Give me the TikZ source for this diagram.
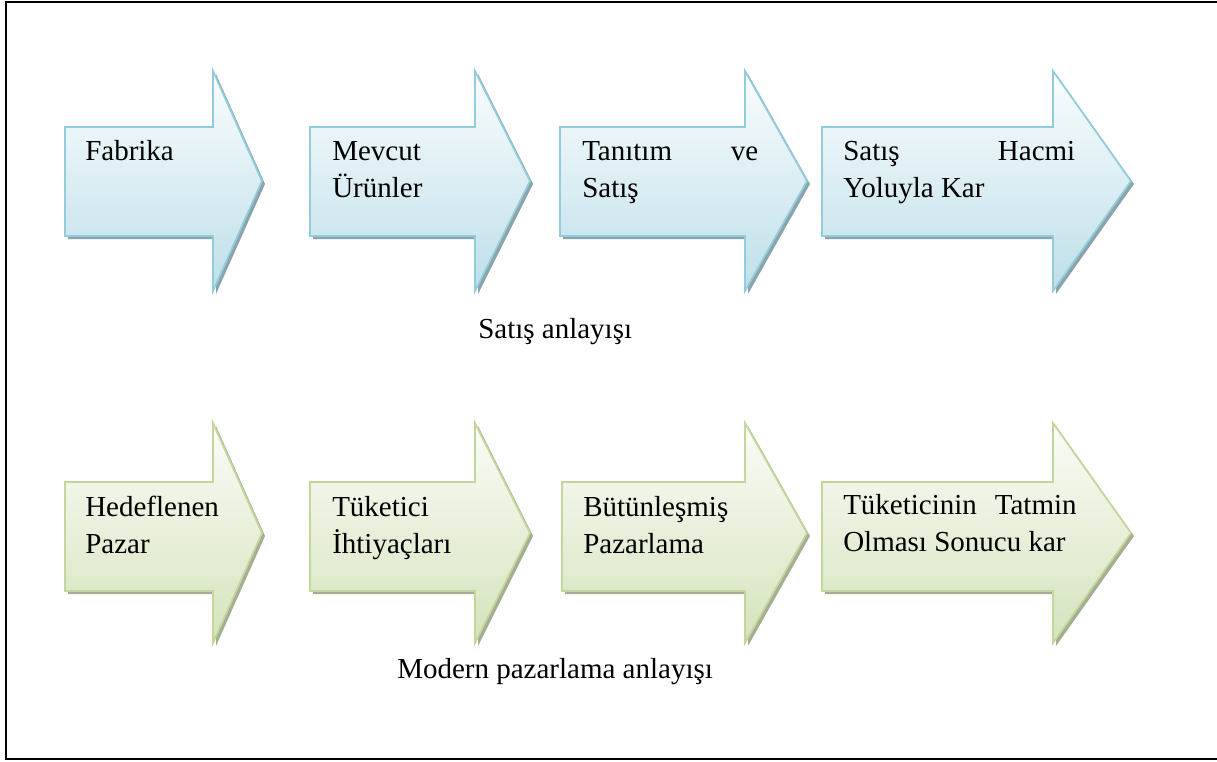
\documentclass[tikz,border=0pt]{standalone}
\usepackage{fontspec}
\setmainfont{Liberation Serif}

\definecolor{blueLine}{HTML}{93CDDD}
\definecolor{blueTop}{HTML}{FAFDFE}
\definecolor{blueBot}{HTML}{BEDFE8}
\definecolor{blueShade}{HTML}{8BA3AB}
\definecolor{greenLine}{HTML}{C3D69B}
\definecolor{greenTop}{HTML}{FBFCF8}
\definecolor{greenBot}{HTML}{D4E3BC}
\definecolor{greenShade}{HTML}{A4AE92}

\tikzset{
  blueshadow/.style={fill=blueShade},
  bluearrow/.style={draw=blueLine, line width=1.3pt, line join=miter,
    top color=blueTop, bottom color=blueBot},
  greenshadow/.style={fill=greenShade},
  greenarrow/.style={draw=greenLine, line width=1.3pt, line join=miter,
    top color=greenTop, bottom color=greenBot},
  steptext/.style={anchor=north west, inner sep=0pt, align=left,
    font=\fontsize{21.75pt}{27.75pt}\selectfont},
  caption/.style={anchor=base west, inner sep=0pt,
    font=\fontsize{21.75pt}{27.75pt}\selectfont},
  frame/.style={draw=black, line width=1.2pt}
}

% natural word spaces and a strut on the first line of each label
\newcommand\labelstart{\spaceskip=0pt\xspaceskip=0pt\strut}

% #1 style prefix, #2 left x, #3 head base x, #4 tip x,
% #5 body top, #6 body bottom, #7 head top, #8 head bottom
\newcommand\flowarrow[8]{%
  \fill[#1shadow, shift={(3,3)}] (#2,#5) -- (#3,#5) -- (#3,#7) -- (#4,{(#7+#8)/2})
    -- (#3,#8) -- (#3,#6) -- (#2,#6) -- cycle;
  \path[#1arrow] (#2,#5) -- (#3,#5) -- (#3,#7) -- (#4,{(#7+#8)/2})
    -- (#3,#8) -- (#3,#6) -- (#2,#6) -- cycle;
}

\begin{document}
\begin{tikzpicture}[x=0.75pt, y=-0.75pt]
\useasboundingbox (0,0) rectangle (1217,761);
\draw[frame] (1217,2) -- (6,2) -- (6,759) -- (1217,759);

% selling concept
\flowarrow{blue}{65}{213}{262}{127}{236}{71}{291}
\flowarrow{blue}{310}{475}{530}{127}{236}{71}{291}
\flowarrow{blue}{560}{745}{807}{127}{236}{71}{291}
\flowarrow{blue}{822}{1053}{1131}{127}{236}{71}{291}

\node[steptext, text width=110pt] (fabrika) at (85,{160-25.9}) {\labelstart Fabrika};
\node[steptext, text width=110pt] (mevcut) at (332,{160-25.9}) {\labelstart Mevcut\\Ürünler};
\node[steptext, text width=132pt] (tanitim) at (582,{160-25.9}) {\labelstart Tanıtım\hfill ve\\Satış};
\node[steptext, text width=174pt] (hacim) at (843,{160-25.9}) {\labelstart Satış\hfill Hacmi\\Yoluyla Kar};

\node[caption] (satis) at (478,338) {Satış anlayışı};

% modern marketing concept
\flowarrow{green}{65}{213}{262}{482}{591}{423}{643}
\flowarrow{green}{310}{475}{530}{482}{591}{423}{643}
\flowarrow{green}{562}{745}{807}{482}{591}{423}{643}
\flowarrow{green}{822}{1053}{1131}{482}{591}{423}{643}

\node[steptext, text width=110pt] (hedef) at (85,{516-25.9}) {\labelstart Hedeflenen\\Pazar};
\node[steptext, text width=110pt] (tuketici) at (332,{516-25.9}) {\labelstart Tüketici\\İhtiyaçları};
\node[steptext, text width=132pt] (butun) at (583,{516-25.9}) {\labelstart Bütünleşmiş\\Pazarlama};
\node[steptext, text width=175pt] (tatmin) at (843,{514-25.9}) {\labelstart Tüketicinin\hfill Tatmin\\Olması Sonucu kar};

\node[caption] (modern) at (397,678) {Modern pazarlama anlayışı};
\end{tikzpicture}
\end{document}
